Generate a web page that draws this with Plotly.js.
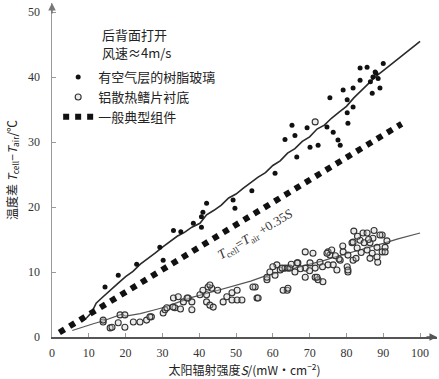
<!DOCTYPE html>
<html><head><meta charset="utf-8">
<script src="https://cdn.plot.ly/plotly-3.0.1.min.js"></script>
<style>html,body{margin:0;padding:0;background:#fff}#chart{width:439px;height:379px}</style>
</head><body><div id="chart"></div>
<script>
// Resin glass with air layer (filled markers)
const resinX = [14.4, 18, 23, 29.3, 30.2, 33, 35, 38.4, 40.6, 40.6, 42, 41, 49.2, 49.7, 54.3, 60.6, 63.3, 65.2, 66, 66.5, 69.3, 70.1, 72.3, 74.7, 76.4, 77.7, 78.3, 75.5, 79.1, 81.8, 80.2, 80.2, 80.4, 81.8, 83.7, 85.6, 87.2, 88.0, 88.6, 89.1, 87, 90, 83.7, 86.5, 87.8];
const resinY = [7.7, 9.5, 11.2, 13.8, 11.8, 16.4, 16.2, 17.5, 18.5, 16.9, 20.6, 19.2, 21.1, 19.8, 22.5, 25.2, 30.4, 32.6, 31.0, 27.7, 32.2, 29.2, 29.5, 32.3, 31.5, 30.3, 29.5, 36.8, 38, 38.3, 36.5, 34.5, 32.9, 35.4, 39.5, 41.5, 40, 40.6, 39.8, 38.3, 37.5, 42.1, 41.4, 39.3, 40.8];
// Aluminium fin substrate (open circles)
const alX = [13.9,15.8,18,19.8,18.5,19.8,22.1,23.9,25.7,27,30.2,30.7,33,34.3,35.7,33.4,34.9,37,38,40.2,42,42.4,43.4,42,42.9,45,16.3,13.9,26.6,31.2,32.9,36.7,38,41,42.9,43.8,47.5,48.9,50.3,48.9,50.3,51.6,55.7,55.2,59.2,60.6,58.4,61.1,62,63.3,63.9,66,54.6,56,46.5,58.4,62.5,64.1,62.8,64.1,66.8,68.8,68.8,68.8,70.1,71.5,71.5,72.3,73.6,72.8,75,75.5,75,76.4,77.4,78.3,79.1,80.4,80.2,80.4,81.8,81.5,82.9,83.7,84.5,84.8,85.6,86.4,87.2,87,88.3,89.7,89.7,90.5,88.3,82.6,70.9,74.7,76,81.8,85.6,89.1,90.5,72,80.4,86.4,66.6,64.6,71.5,78,83,86,84,79,77,73.5,67.5,65,60,70,82,87.5,91,88.5];
const alY = [2.3,1.4,2.2,1.5,3.4,3.4,2.3,2.3,2.6,3.1,3.7,4.2,6,6.2,5.4,4.5,4.3,6,4.2,6.5,6.5,7.7,7.5,5.4,4.9,7.2,1.5,2.6,3.1,4.5,4.6,6,5.4,7.2,8,4.6,6.2,6.8,7.2,5.7,5.7,5.7,6,7.7,10,9.5,8.8,11.1,10.3,10.6,7.2,10,7.7,6,5.4,9.2,10.6,10.6,7.2,7.5,11.4,13.1,10.6,9.2,11.4,10.6,9.2,8.8,8.5,11.5,13.1,12.6,11.1,11.1,10.3,11.8,13.1,12.6,10.8,10,11.8,14.5,13.7,14.9,16,14.5,13.4,14.5,15.2,12.9,13.8,15.7,13.1,13.8,12.3,12.1,12.9,12.9,13.4,14.6,16,15.7,13.1,9.2,10.3,12.1,11.4,10.6,33.1,12,15.5,15,13,14,12.5,10.8,10.5,11.2,10.8,10.2,16.3,16.4,14.8,11.5];
// Fit line for resin glass
const fitUpX = [8,9.5,10.8,12,13.5,15,16.5,18,20,22,24,26,28,30.2,32,34,36,38,40.2,42,44,46,48,50,52,54,56,58,60,62,64,66,68,70,72,74,76,78,80,82,84,86,88,90,92,94,96,98,100];
const fitUpY = [2.3,3.0,3.8,5.2,6.0,6.8,7.6,8.3,9.3,10.1,11.2,12.0,12.9,13.9,14.6,15.5,16.1,16.9,17.5,18.8,19.5,20.3,21.4,22.0,22.9,23.8,24.6,25.3,26.4,27.1,28.3,29.0,30.1,30.8,32.0,32.6,33.7,34.6,35.5,36.8,37.9,39.1,40.1,41.0,41.9,42.9,43.8,44.7,45.5];
// Fit line for aluminium fins
const fitLoX = [5.5,8,11,14,16,18,19,20,24,28,30,34,38,42,46,50,54,58,62,66,70,74,78,82,86,90,94,97,100];
const fitLoY = [1.0,1.5,2.0,2.5,2.9,3.4,3.5,3.2,3.6,4.2,4.5,5.3,6.1,6.7,7.3,7.9,8.6,9.4,10.0,10.5,11.1,11.8,12.5,13.1,13.8,14.4,15.1,15.6,16.0];
// Typical module: Tcell = Tair + 0.35S
const typX = [2, 95];
const typY = [0.7, 32.8];
const xTicks = [0,10,20,30,40,50,60,70,80,90,100];
const yTicks = [0,10,20,30,40,50];

const serif = 'Liberation Serif, Times New Roman, serif';
const cjk = 'Noto Sans CJK SC, sans-serif';

const traces = [
  {x: fitUpX, y: fitUpY, mode:'lines', line:{color:'#2a2a2a', width:1.6}, showlegend:false, hoverinfo:'skip'},
  {x: fitLoX, y: fitLoY, mode:'lines', line:{color:'#555', width:1.2}, showlegend:false, hoverinfo:'skip'},
  {x: resinX, y: resinY, mode:'markers', name:'有空气层的树脂玻璃',
   marker:{symbol:'circle', size:5, color:'#111'}},
  {x: alX, y: alY, mode:'markers', name:'铝散热鳍片衬底',
   marker:{symbol:'circle', size:6, color:'rgba(200,200,200,0.35)', line:{color:'#333', width:1.1}}},
  {x: typX, y: typY, mode:'lines', name:'一般典型组件',
   line:{color:'#111', width:6, dash:'6px,6px'}}
];

const layout = {
  width: 439, height: 379,
  margin: {l:52, r:2, t:3, b:42},
  paper_bgcolor:'#fff', plot_bgcolor:'#fff',
  showlegend: true,
  legend: {x:0.016, xanchor:'left', y:0.823, yanchor:'top', bgcolor:'rgba(0,0,0,0)',
           font:{family:cjk, size:13, color:'#222'}, tracegroupgap:4},
  xaxis: {range:[0,104.6], tickvals:xTicks, ticks:'inside', ticklen:4, tickcolor:'#999',
          showline:true, linecolor:'#555', linewidth:1.5, showgrid:false, zeroline:false,
          tickfont:{family:serif, size:12, color:'#333'}, ticklabelstandoff:4,
          title:{text:'太阳辐射强度<i>S</i>/(mW·cm<sup>−2</sup>)', font:{family:cjk, size:12, color:'#222'}, standoff:6}},
  yaxis: {range:[0,51.4], tickvals:yTicks, ticks:'inside', ticklen:4, tickcolor:'#999',
          showline:true, linecolor:'#999', linewidth:1.5, showgrid:false, zeroline:false,
          tickfont:{family:serif, size:12, color:'#333'}, ticklabelstandoff:8,
          title:{text:'温度差 <i>T</i><sub>cell</sub>−<i>T</i><sub>air</sub>/℃', font:{family:cjk, size:12, color:'#222'}, standoff:8}},
  annotations: [
    {xref:'paper', yref:'paper', x:0.125, y:0.907, xanchor:'left', yanchor:'middle', showarrow:false,
     text:'后背面打开', font:{family:cjk, size:13, color:'#222'}},
    {xref:'paper', yref:'paper', x:0.125, y:0.853, xanchor:'left', yanchor:'middle', showarrow:false,
     text:'风速≈4m/s', font:{family:cjk, size:13, color:'#222'}},
    {xref:'x', yref:'y', x:55.4, y:15.8, showarrow:false, textangle:-31,
     text:'<i>T</i><sub>cell</sub>=<i>T</i><sub>air</sub> +0.35<i>S</i>', font:{family:serif, size:13, color:'#333'}},
    {xref:'paper', yref:'paper', x:1, y:0, ax:-12, ay:0, axref:'pixel', ayref:'pixel', showarrow:true,
     arrowhead:2, arrowsize:1, arrowwidth:1.5, arrowcolor:'#555', text:''},
    {xref:'paper', yref:'paper', x:0, y:1, ax:0, ay:12, axref:'pixel', ayref:'pixel', showarrow:true,
     arrowhead:2, arrowsize:1, arrowwidth:1.5, arrowcolor:'#777', text:''}
  ]
};
Plotly.newPlot('chart', traces, layout, {displayModeBar:false, staticPlot:true});
</script></body></html>
